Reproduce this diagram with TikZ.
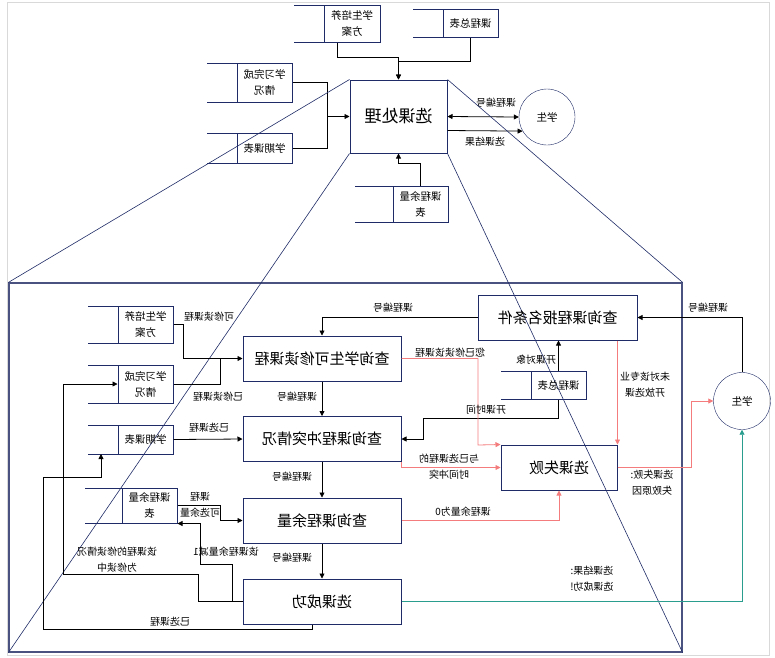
\documentclass[tikz,border=0pt]{standalone}
\usepackage{fontspec}
\setmainfont{Noto Sans CJK SC}
\usetikzlibrary{arrows.meta,calc}
\definecolor{navy}{HTML}{1F2B66}
\definecolor{salmon}{HTML}{F47C7C}
\definecolor{okgreen}{HTML}{2A9D8F}
\definecolor{framecol}{HTML}{4A5280}

% data store: name, open x, divider x, right x, top y, bottom y, text
\newcommand{\datastore}[7]{%
  \node[store, minimum width={(#4-#3)*1pt}, minimum height={(#6-#5)*1pt}] (#1) at ({(#3+#4)/2},{(#5+#6)/2}) {#7};
  \draw[navy, line width=1pt] (#2,#5) -- (#4,#5) (#2,#6) -- (#4,#6);
}

\begin{document}
\begin{tikzpicture}[x=-1pt, y=-1pt, xscale=-1,
  every node/.append style={transform shape},
  proc/.style={draw=navy, line width=1pt, minimum width=158pt, minimum height=45pt, font=\fontsize{15}{18}\selectfont},
  store/.style={draw=navy, line width=1pt, inner sep=0pt, align=center, font=\fontsize{10.5}{16}\selectfont},
  ent/.style={circle, draw=navy, minimum size=56pt, inner sep=0pt, font=\fontsize{10.5}{13}\selectfont},
  lbl/.style={inner sep=0pt, align=center, font=\fontsize{10}{16}\selectfont},
  flow/.style={-{Triangle[length=5pt,width=5pt]}, line width=0.8pt},
  bad/.style={flow, salmon},
  good/.style={flow, okgreen},
  proj/.style={navy, line width=0.6pt}]
  \useasboundingbox (0,0) rectangle (775,657);
  \draw[black!15] (7,2) rectangle (769,655);

  % overview
  \node[proc, minimum width=97pt, minimum height=73pt, font=\fontsize{17}{20}\selectfont] (main) at (398.5,116.5) {选课处理};
  \datastore{plan1}{294}{324}{380}{5}{42}{学生培养\\方案}
  \datastore{total1}{413}{443}{498}{9}{37}{课程总表}
  \datastore{learn1}{207}{237}{292}{63}{102}{学习完成\\情况}
  \datastore{sem1}{207}{237}{292}{133}{163}{学期课表}
  \datastore{remain1}{355}{393}{448}{186}{222}{课程余量\\表}
  \node[ent] (stu1) at (547,117) {学生};

  \draw[flow] ($(plan1.south)+(-15,0)$) |- (398.5,57) -- (main.north);
  \draw[flow] (total1.south) |- (398.5,61) -- (main.north);
  \draw[flow] (learn1.west) -| (327,116.5) -- (main.east);
  \draw[line width=0.8pt] (sem1.west) -| (327,116.5);
  \draw[flow] (remain1.north) |- (398.5,163) -- (main.south);
  \draw[{Triangle[length=5pt,width=5pt]}-{Triangle[length=5pt,width=5pt]}, line width=0.8pt] (main.west) -- (stu1.east);
  \draw[flow] ($(main.west)+(0,14)$) -- (stu1.-30);
  \node[lbl] at (496,103) {课程编号};
  \node[lbl] at (485,142) {选课结果};

  % detail frame
  \node[draw=framecol, line width=1.2pt, minimum width=673pt, minimum height=369pt] (detail) at (345.5,467.5) {};
  \draw[proj] (main.north east) -- (detail.north east);
  \draw[proj] (main.south east) -- (detail.south east);
  \draw[proj] (main.north west) -- (detail.north west);
  \draw[proj] (main.south west) -- (detail.south west);

  % detail
  \node[proc, minimum width=159pt] (cond) at (557.5,317.5) {查询课程报名条件};
  \node[proc] (avail) at (322,358.5) {查询学生可修读课程};
  \node[proc] (conflict) at (322,439) {查询课程冲突情况};
  \node[proc] (remain) at (322,520.5) {查询课程余量};
  \node[proc] (ok) at (322,601.5) {选课成功};
  \node[proc, minimum width=116pt] (fail) at (559,467.5) {选课失败};
  \node[ent, minimum size=57pt] (stu2) at (742,401) {学生};

  \datastore{plan2}{88}{118}{173}{306}{343}{学生培养\\方案}
  \datastore{learn2}{88}{118}{173}{365}{403}{学习完成\\情况}
  \datastore{sem2}{88}{118}{173}{425}{454}{学期课表}
  \datastore{remain2}{85}{122}{177}{488}{523}{课程余量\\表}
  \datastore{total2}{501}{531}{586}{371}{399}{课程总表}
  \coordinate (sem2in) at (101,454);

  \draw[flow] (stu2.north) |- (cond.west);
  \draw[flow] (cond.east) -| (avail.north);
  \draw[flow] (plan2.west) -- ++(10,0) |- (avail.east);
  \draw[line width=0.8pt] (learn2.west) -| (220,358.5);
  \draw[flow] (sem2.west) -- (conflict.east);
  \draw[flow] (avail.south) -- (conflict.north);
  \draw[flow] (conflict.south) -- (remain.north);
  \draw[flow] (remain.south) -- (ok.north);
  \draw[flow] (total2.north) -- (cond.south -| total2.north);
  \draw[flow] (total2.south) |- (423,418) |- (conflict.west);
  \draw[flow] (remain2.west) -- ++(43,0) |- (remain.east);
  \draw[flow] (ok.east) -- ++(-10,0) |- (200,564) |- (remain2.south west);
  \draw[flow] (ok.east) -- (198,601.5) |- (63,574) |- (learn2.east);
  \draw[flow] ($(ok.south)+(-10,0)$) |- (43,629) |- (101,477) -- (sem2in);
  \draw[bad] (avail.west) -| (478,445) -- (fail.north east);
  \draw[bad] (conflict.south west) |- (fail.east);
  \draw[bad] (cond.south -| fail.north west) -- (fail.north west);
  \draw[bad] (remain.west) -| (fail.south);
  \draw[bad] (fail.west) -| (691,401) -- (stu2.east);
  \draw[good] (ok.west) -| (stu2.south);

  \node[lbl] at (393,308) {课程编号};
  \node[lbl] at (708,308) {课程编号};
  \node[lbl] at (209,317) {可修读课程};
  \node[lbl] at (218,397) {已修读课程};
  \node[lbl] at (209,428) {已选课程};
  \node[lbl] at (297,397) {课程编号};
  \node[lbl] at (292,477) {课程编号};
  \node[lbl] at (292,558) {课程编号};
  \node[lbl] at (536,360) {开课对象};
  \node[lbl] at (486,410) {开课时间};
  \node[lbl] at (450,353) {您已修读该课程};
  \node[lbl] at (449,467) {与已选课程的\\时间冲突};
  \node[lbl] at (645,385) {未对该专业\\开放选课};
  \node[lbl] at (652,483) {选课失败:\\失败原因};
  \node[lbl] at (463,512) {课程余量为0};
  \node[lbl] at (592,579) {选课结果:\\选课成功!};
  \node[lbl] at (200,505) {课程\\可选余量};
  \node[lbl] at (226,552) {该课程余量减1};
  \node[lbl] at (117,560) {该课程的修读情况\\为修读中};
  \node[lbl] at (170,622) {已选课程};
\end{tikzpicture}
\end{document}
